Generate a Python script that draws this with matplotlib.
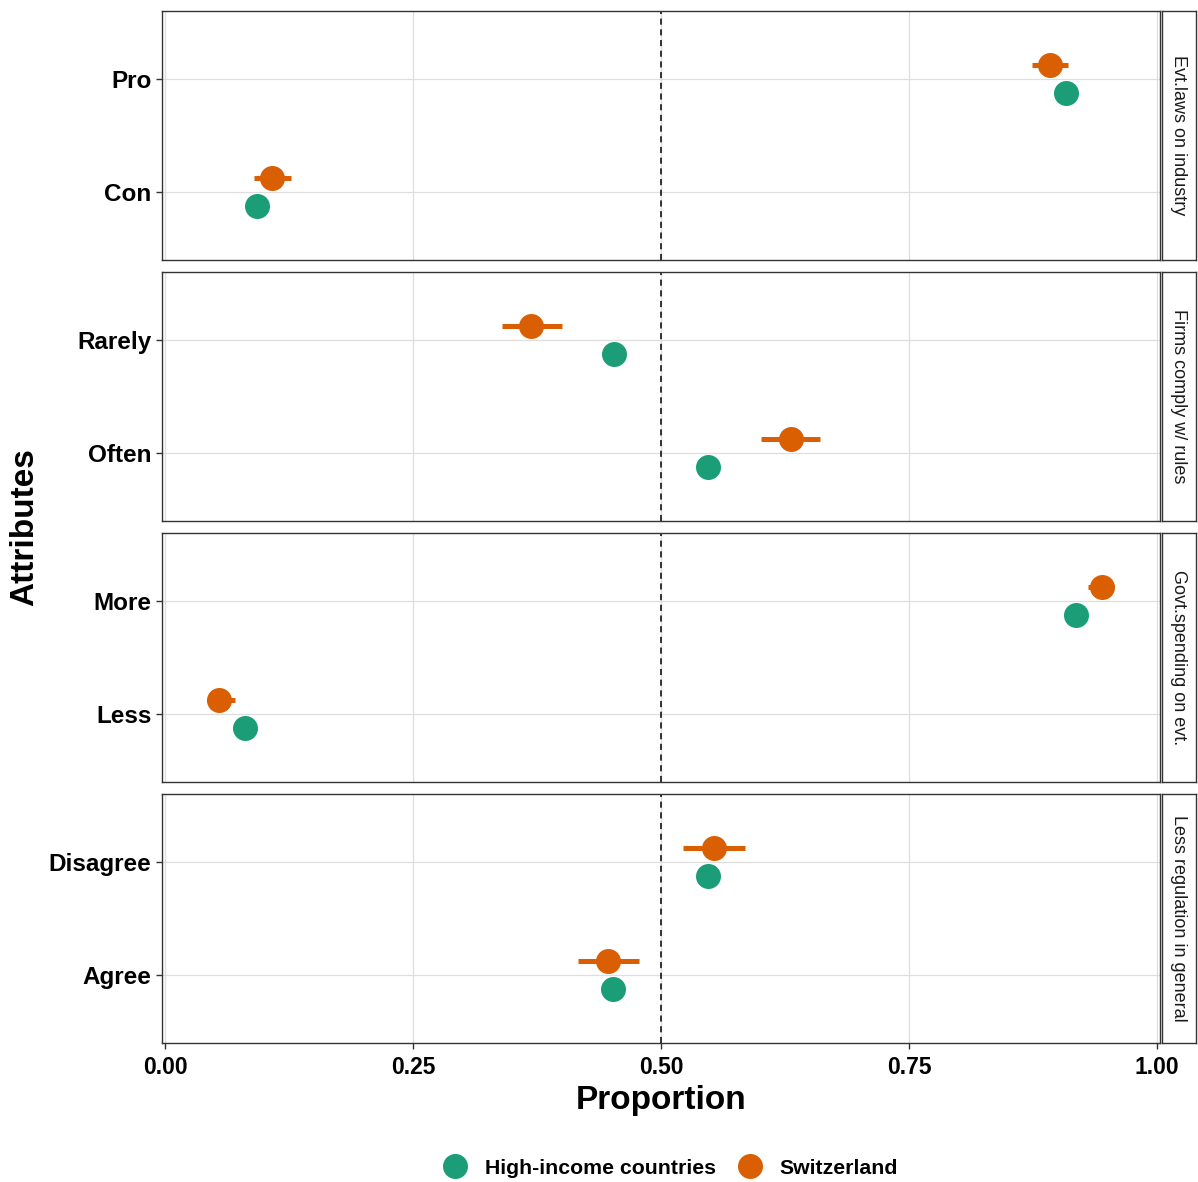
import matplotlib
matplotlib.use("Agg")
import matplotlib.pyplot as plt
from matplotlib.lines import Line2D

plt.rcParams['font.family'] = ['Liberation Sans', 'DejaVu Sans']

# ---- data ----
facets = ["Evt.laws on industry", "Firms comply w/ rules",
          "Govt.spending on evt.", "Less regulation in general"]
levels_top = ["Pro", "Rarely", "More", "Disagree"]
levels_bottom = ["Con", "Often", "Less", "Agree"]

# Switzerland estimates (top level, bottom level) and 95% CI
swiss_top = [0.892, 0.369, 0.945, 0.553]
swiss_top_lo = [0.874, 0.340, 0.930, 0.522]
swiss_top_hi = [0.910, 0.400, 0.957, 0.585]
swiss_bot = [0.108, 0.631, 0.054, 0.447]
swiss_bot_lo = [0.090, 0.601, 0.042, 0.416]
swiss_bot_hi = [0.127, 0.660, 0.071, 0.478]

# High-income countries estimates
hic_top = [0.908, 0.453, 0.918, 0.547]
hic_top_lo = [0.904, 0.449, 0.914, 0.543]
hic_top_hi = [0.912, 0.457, 0.922, 0.551]
hic_bot = [0.093, 0.547, 0.081, 0.452]
hic_bot_lo = [0.089, 0.543, 0.077, 0.448]
hic_bot_hi = [0.097, 0.551, 0.085, 0.456]

xticks = [0.0, 0.25, 0.5, 0.75, 1.0]
xticklabels = ["0.00", "0.25", "0.50", "0.75", "1.00"]

GREEN = "#1B9E77"
ORANGE = "#D95F02"
BORDER = "#333333"
GRID = "#DEDEDE"

W, H = 1198, 1182
fig = plt.figure(figsize=(W / 100, H / 100), dpi=100)

left_px, right_px = 162, 1160
strip_l, strip_r = 1162, 1196
tops = [11, 272, 533, 794]
ph = 249
dodge = 0.125

for i, top in enumerate(tops):
    bottom = H - (top + ph)
    ax = fig.add_axes([left_px / W, bottom / H, (right_px - left_px) / W, ph / H])
    ax.set_xlim(-0.003, 1.003)
    ax.set_ylim(0.4, 2.6)
    ax.set_xticks(xticks)
    ax.set_yticks([1, 2])
    ax.set_yticklabels([levels_bottom[i], levels_top[i]], fontsize=17.5, fontweight='bold')
    ax.grid(True, color=GRID, linewidth=0.9)
    ax.set_axisbelow(True)
    for s in ax.spines.values():
        s.set_color(BORDER)
        s.set_linewidth(1.0)
    ax.tick_params(axis='y', color=BORDER, length=4, width=1, pad=3.5)
    ax.tick_params(axis='x', color=BORDER, length=4, width=1, pad=5)
    ax.axvline(0.5, color='black', linestyle=(0, (4, 3)), linewidth=1.1, zorder=2)

    # HIC (below)
    for y, v, lo, hi in [(2, hic_top[i], hic_top_lo[i], hic_top_hi[i]),
                         (1, hic_bot[i], hic_bot_lo[i], hic_bot_hi[i])]:
        ax.plot([lo, hi], [y - dodge, y - dodge], color=GREEN, lw=3.6, solid_capstyle='butt', zorder=3)
        ax.plot([v], [y - dodge], 'o', color=GREEN, ms=18, mec='none', zorder=4)
    # Switzerland (above)
    for y, v, lo, hi in [(2, swiss_top[i], swiss_top_lo[i], swiss_top_hi[i]),
                         (1, swiss_bot[i], swiss_bot_lo[i], swiss_bot_hi[i])]:
        ax.plot([lo, hi], [y + dodge, y + dodge], color=ORANGE, lw=3.6, solid_capstyle='butt', zorder=3)
        ax.plot([v], [y + dodge], 'o', color=ORANGE, ms=18, mec='none', zorder=4)

    if i < 3:
        ax.set_xticklabels([])
        ax.tick_params(axis='x', length=0)
    else:
        ax.set_xticklabels(xticklabels, fontsize=16.5, fontweight='bold')
        ax.set_xlabel("Proportion", fontsize=24, fontweight='bold', labelpad=5)

    # strip
    sax = fig.add_axes([strip_l / W, bottom / H, (strip_r - strip_l) / W, ph / H])
    sax.set_xticks([])
    sax.set_yticks([])
    for s in sax.spines.values():
        s.set_color(BORDER)
        s.set_linewidth(1.0)
    sax.set_facecolor('white')
    sax.text(0.5, 0.5, facets[i], rotation=-90, ha='center', va='center',
             fontsize=13, color='#1A1A1A', transform=sax.transAxes)

fig.text(25 / W, 1 - 527 / H, "Attributes", rotation=90, ha='center', va='center',
         fontsize=24, fontweight='bold')

handles = [Line2D([], [], marker='o', color=GREEN, ls='none', ms=18, mec='none'),
           Line2D([], [], marker='o', color=ORANGE, ls='none', ms=18, mec='none')]
fig.legend(handles, ["High-income countries", "Switzerland"], loc='center',
           bbox_to_anchor=(670 / W, 1 - 1168 / H), ncol=2, frameon=False,
           prop={'size': 15.3, 'weight': 'bold'}, handletextpad=0.8, columnspacing=1.0,
           handlelength=1.2)

fig.savefig("out.png", dpi=100)
